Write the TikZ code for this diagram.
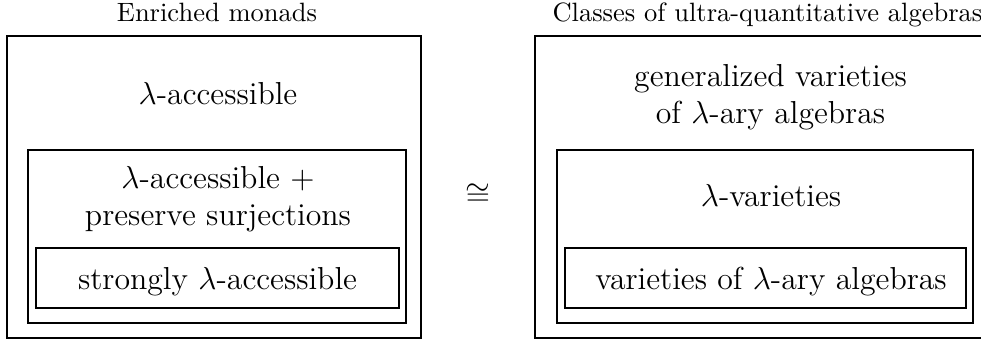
\documentclass[tikz,border=0pt]{standalone}
\tikzset{
  heading/.style={font=\normalsize, anchor=base},
  boxtext/.style={font=\large, align=center},
  frame/.style={line width=0.4pt}
}
\begin{document}
\begin{tikzpicture}[x=0.3774pt,y=-0.3774pt]
\clip (0,0) rectangle (981,343);
\draw[frame] (7,36) rectangle (421,338);
\draw[frame] (28,150) rectangle (406,323);
\draw[frame] (36,248) rectangle (399,308);
\node[heading] (enriched) at (217,21.7) {Enriched monads};
\node[boxtext, anchor=base] (accessible) at (218,105) {$\lambda$-accessible};
\node[boxtext] (surj) at (218,199) {$\lambda$-accessible +\\ preserve surjections};
\node[boxtext, anchor=base] (strongly) at (217.5,290) {strongly $\lambda$-accessible};
\node[boxtext, inner sep=0pt] (iso) at (478,195) {$\cong$};
\draw[frame] (535,36) rectangle (988,338);
\draw[frame] (557,150) rectangle (973,323);
\draw[frame] (565,248) rectangle (966,308);
\node[heading, anchor=base west, inner sep=0pt] (classes) at (552,21.7) {Classes of ultra-quantitative algebras};
\node[boxtext] (genvar) at (770.5,97) {generalized varieties\\ of $\lambda$-ary algebras};
\node[boxtext, anchor=base] (lvar) at (771,207) {$\lambda$-varieties};
\node[boxtext, anchor=base] (varlary) at (771,290) {varieties of $\lambda$-ary algebras};
\end{tikzpicture}
\end{document}
